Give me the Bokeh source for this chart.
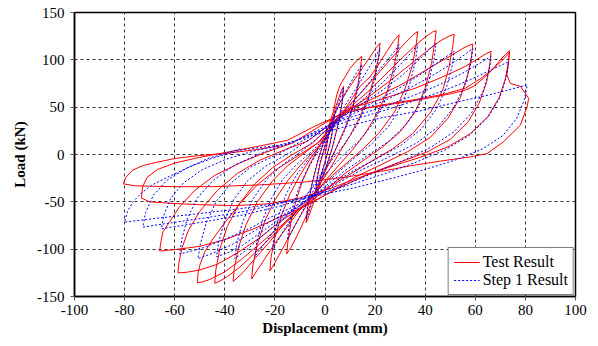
from bokeh.plotting import figure
from bokeh.models import Range1d, FixedTicker, Legend, LegendItem
from bokeh.embed import file_html
from bokeh.resources import INLINE

# ---- Test Result (red, solid): one list of (displacement mm, load kN) per cycle ----
TEST_C1 = [(0, 0), (1.5, 22), (3, 37), (3.7, 42), (3.3, 30), (2, 12), (0, -8), (-1.5, -22), (-3, -36),
           (-3.7, -40), (-3.3, -28), (-2, -10), (0, 8)]
TEST_C2 = [(2, 28), (4.5, 52), (6.5, 67), (7.4, 72), (7, 58), (5.5, 35), (3, 8), (0, -18), (-3, -40),
           (-5.5, -58), (-7, -69), (-7.5, -72), (-7, -58), (-5.5, -35), (-3, -8), (0, 18)]
TEST_C3 = [(3.3, 45), (4.7, 63), (6, 73), (10, 91), (13, 100), (14.7, 103.6), (14.2, 92), (13, 72),
           (11, 50), (8, 28), (5, 10), (2, -8), (-2, -28), (-5, -48), (-8, -68), (-11, -85), (-13.5, -98),
           (-15.3, -105), (-14.8, -92), (-13.5, -70), (-11.5, -48), (-9, -28), (-6, -10), (-3, 5), (0, 20)]
TEST_C4 = [(3, 38), (6, 55), (10, 72), (14, 88), (18, 103), (20.5, 113), (22, 117.7), (21.5, 105), (20, 85),
           (17.5, 62), (14, 40), (10, 20), (6, 3), (2, -15), (-3, -35), (-7, -52), (-11, -70), (-15, -90),
           (-18.5, -107), (-21, -119), (-22, -123), (-21.5, -108), (-20, -88), (-17.5, -65), (-14, -42),
           (-10, -22), (-6, -5), (-2, 10), (2, 24)]
TEST_C5 = [(8, 48), (11, 60), (14, 72), (18, 82), (21.3, 94.7), (24.7, 109), (27.3, 119.5), (29.6, 126.5),
           (29, 113), (27.5, 92), (25, 68), (21, 44), (16, 22), (11, 5), (6, -10), (0, -28), (-5, -45),
           (-10, -58), (-15, -76), (-20, -94), (-24, -110), (-27.5, -124), (-29.3, -131.5), (-28.8, -117),
           (-27, -95), (-24, -70), (-20, -48), (-15, -28), (-10, -12), (-5, 2), (0, 16)]
TEST_C6 = [(5, 40), (9, 50), (16, 70), (22, 88), (28, 106), (32, 118), (35, 126), (37, 130), (36.5, 118),
           (35, 95), (32, 70), (28, 46), (22, 24), (16, 8), (10, -6), (3, -22), (-4, -40), (-10, -56),
           (-16, -72), (-22, -92), (-28, -110), (-32.5, -124), (-35.5, -131.5), (-36.7, -134), (-36.2, -120),
           (-34.5, -98), (-31.5, -74), (-27, -50), (-21, -28), (-15, -12), (-8, 2), (-2, 14)]
TEST_C7 = [(4, 34), (10, 50), (17, 66), (24, 84), (30, 100), (36, 115), (40, 124), (43, 129.5), (44.4, 130.8),
           (43.8, 118), (42.5, 96), (40, 70), (36, 45), (30, 24), (23, 8), (16, -5), (8, -20), (0, -38),
           (-8, -54), (-14, -68), (-21, -86), (-28, -104), (-34, -119), (-39, -129), (-42.5, -134.5),
           (-44, -136), (-43.6, -122), (-42, -100), (-39, -76), (-34.5, -53), (-28, -31), (-21, -14),
           (-13, 0), (-5, 12)]
TEST_C8 = [(2, 30), (10, 48), (18, 62), (26, 78), (34, 95), (41, 110), (46, 120), (49.5, 125), (51.6, 127),
           (51, 114), (49.5, 92), (47, 68), (42, 44), (35, 22), (27, 6), (18, -8), (8, -24), (-2, -40),
           (-10, -57), (-17, -74), (-25, -92), (-33, -110), (-40, -124), (-46, -132), (-49.5, -135),
           (-51, -135.5), (-50.7, -126), (-50, -117), (-48, -103), (-44.7, -89), (-40, -72), (-34, -52),
           (-27, -32), (-19, -15), (-10, 0), (-3, 12)]
TEST_C9 = [(4, 33), (10, 48), (20, 60), (32, 76), (42, 92), (50, 104), (55, 112), (57.5, 115.5), (59, 116.6),
           (58.5, 104), (57, 84), (54, 60), (49, 38), (42, 18), (33, 3), (23, -10), (12, -24), (2, -40),
           (-10, -57), (-18, -71), (-26, -88), (-35, -104), (-43, -116), (-50, -122), (-55.5, -124.5),
           (-58.7, -125), (-58.3, -114), (-57, -98), (-54.5, -80), (-50, -60), (-43, -38), (-35, -20),
           (-26, -6), (-16, 5), (-7, 14)]
TEST_C10 = [(3, 34), (9, 48), (22, 58), (36, 70), (47, 82), (56, 93), (61, 101), (64, 106), (66.3, 109),
            (65.8, 96), (64.5, 76), (61.5, 54), (57, 34), (50, 16), (41, 3), (30, -8), (18, -20), (5, -36),
            (-9, -56), (-18, -66), (-28, -78), (-40, -90), (-50, -97), (-60, -100.5), (-66, -102),
            (-65.5, -92), (-64.7, -81.7), (-62, -71), (-58, -55), (-52, -38), (-44, -22), (-34, -9),
            (-24, 2), (-13, 12)]
TEST_C11 = [(-2, 30), (8, 46), (24, 52), (38, 58), (50, 64), (56, 68), (59.3, 72), (63.3, 80.6), (66.7, 89.4),
            (70, 100), (72.5, 107), (73.7, 109.5), (73.2, 97), (72, 80), (69.5, 60), (65, 40), (58, 22),
            (49, 8), (38, -3), (26, -13), (14, -24), (2, -36), (-10, -46), (-22, -52), (-36, -54), (-50, -53),
            (-62, -51.5), (-70, -50), (-73.3, -46), (-72.8, -34), (-71, -24), (-67, -16), (-60, -9),
            (-50, -3), (-38, 3), (-26, 9), (-15, 15)]
TEST_C12 = [(-4, 30), (8, 44), (22, 52), (36, 58), (48, 64), (56, 70), (62, 80), (67, 90), (71, 100),
            (73, 106), (73.6, 108), (73.2, 96), (72.6, 84), (74, 75), (78, 72), (81.3, 59.4), (80.7, 50.6),
            (78, 31), (71.3, 13.5), (64.7, 1), (58, -2.5), (46, -7), (34, -12), (22, -18), (8, -24),
            (-8, -29), (-25, -32), (-45, -34), (-60, -34), (-70, -33.5), (-76, -33), (-80.5, -31),
            (-79.5, -24), (-76.8, -16.6), (-73, -12), (-69.3, -9.5), (-60, -4.2), (-50, -1), (-40, 1),
            (-28, 5), (-18, 9)]

# ---- Step 1 Result (blue, dashed) ----
STEP1_C1 = [(0, 0), (1.5, 20), (3, 34), (3.7, 40), (3.2, 27), (2, 10), (0, -8), (-1.5, -20), (-3, -33),
            (-3.7, -38), (-3.2, -25), (-2, -8), (0, 10)]
STEP1_C2 = [(2, 26), (4.5, 48), (6.5, 63), (7.4, 70), (6.9, 55), (5.3, 32), (3, 8), (0, -16), (-3, -37),
            (-5.5, -54), (-7, -65), (-7.5, -68), (-6.9, -54), (-5.3, -32), (-3, -7), (0, 16)]
STEP1_C3 = [(3, 36), (6, 55), (9, 70), (12, 84), (14.7, 95), (14, 82), (12.5, 62), (10, 40), (7, 20), (4, 4),
            (0, -15), (-4, -35), (-8, -55), (-11.5, -73), (-14, -85), (-15, -90), (-14.4, -77), (-13, -56),
            (-10.5, -36), (-7.5, -18), (-4, -2), (0, 14)]
STEP1_C4 = [(4, 34), (8, 52), (12, 68), (16, 85), (19.5, 100), (22, 112), (21.3, 98), (19.5, 76), (16.5, 52),
            (12.5, 30), (8, 12), (3, -5), (-2, -22), (-7, -42), (-12, -62), (-16, -78), (-19, -92), (-21, -100),
            (-20.3, -86), (-18.5, -64), (-15.5, -42), (-11.5, -22), (-7, -6), (-2, 8)]
STEP1_C5 = [(3, 28), (8, 46), (14, 64), (20, 84), (25, 100), (28, 110), (29.6, 116), (28.8, 101), (26.8, 78),
            (23.5, 54), (19, 32), (13.5, 14), (7.5, 0), (1, -18), (-6, -38), (-12, -56), (-18, -72), (-23, -90),
            (-26.5, -102), (-28, -108), (-27.2, -92), (-25, -70), (-21.5, -47), (-17, -27), (-11.5, -11), (-5, 4)]
STEP1_C6 = [(2, 24), (9, 44), (16, 60), (23, 76), (29, 92), (33.5, 105), (37, 116), (36.2, 100), (34, 76),
            (30.5, 52), (25.5, 30), (19, 12), (12, -3), (4, -22), (-4, -40), (-11, -56), (-18, -70), (-25, -86),
            (-31, -100), (-36, -110), (-35.2, -94), (-33, -72), (-29, -48), (-23.5, -27), (-17, -11), (-9, 4)]
STEP1_C7 = [(-1, 22), (8, 42), (15, 54), (23, 68), (31, 84), (37.5, 100), (42, 112), (44.4, 117.7), (43.6, 102),
            (41.5, 78), (38, 54), (32.5, 32), (25.5, 14), (17, -1), (8, -17), (-1, -36), (-10, -54), (-18, -68),
            (-26, -83), (-33, -96), (-39, -104), (-43.3, -108), (-42.5, -93), (-40.2, -71), (-36.5, -48),
            (-31, -28), (-23.5, -12), (-14, 2)]
STEP1_C8 = [(-4, 20), (6, 40), (14, 48), (23, 60), (32, 74), (40, 88), (46.5, 100), (51.6, 109), (50.8, 94),
            (48.5, 71), (44.5, 48), (38.5, 27), (30.5, 10), (21, -4), (10, -19), (-1, -37), (-10, -54),
            (-20, -68), (-29, -82), (-37, -95), (-44.5, -104), (-50.7, -110), (-49.8, -95), (-47.5, -73),
            (-43.5, -50), (-37.5, -30), (-29.5, -13), (-19, 0)]
STEP1_C9 = [(-8, 16), (3, 32), (12, 44), (23, 56), (33, 69), (42, 82), (50, 95), (55.5, 105), (59, 112),
            (58.2, 96), (55.8, 73), (51.5, 50), (45, 29), (36.5, 12), (26, -2), (14, -17), (2, -35), (-9, -51),
            (-20, -64), (-30, -78), (-39.5, -89), (-48, -98), (-54, -102.5), (-58, -105), (-57.2, -90),
            (-55, -68), (-51, -46), (-44.5, -27), (-36, -11), (-25, 2)]
STEP1_C10 = [(-12, 14), (-1, 28), (11, 40), (23, 50), (35, 62), (46, 74), (55, 86), (61.5, 96), (66.3, 103.6),
             (65.5, 88), (63, 66), (58.5, 44), (51.5, 24), (42.5, 8), (31.5, -6), (19, -20), (6, -34), (-7, -46),
             (-20, -56), (-33, -64), (-46, -70), (-57, -75), (-65.3, -78.5), (-64.3, -64), (-61.5, -46),
             (-56.5, -30), (-49, -16), (-39.5, -5), (-28, 4)]
STEP1_C11 = [(-15, 11), (-3, 24), (10, 36), (23, 46), (36, 57), (48, 68), (58, 79), (66, 89), (73.3, 98),
             (72.4, 82), (69.8, 60), (65, 39), (57.5, 20), (48, 5), (36.5, -8), (23, -21), (9, -33), (-6, -44),
             (-20, -53), (-34, -61), (-48, -67), (-61, -72), (-72.7, -76.7), (-71.6, -61), (-68.5, -43),
             (-63, -27), (-55, -14), (-45, -4), (-33, 5)]
STEP1_C12 = [(-18, 10), (-5, 20), (9, 30), (23, 39), (38, 46), (52, 55), (64, 62), (73, 68), (80.7, 73.5),
             (79.6, 58), (76.5, 38), (71, 20), (63, 6), (53, -5), (41, -15), (27, -25), (12, -35), (-4, -44),
             (-20, -52), (-36, -58), (-52, -63), (-66, -67), (-80, -71.4), (-78.8, -60), (-76.7, -50),
             (-73, -40), (-69.3, -32.5), (-61.3, -22), (-54, -13), (-46.7, -4.2), (-33.3, 6.4)]

X_TICKS = [-100, -80, -60, -40, -20, 0, 20, 40, 60, 80, 100]
Y_TICKS = [-150, -100, -50, 0, 50, 100, 150]

test_cycles = [TEST_C1, TEST_C2, TEST_C3, TEST_C4, TEST_C5, TEST_C6, TEST_C7, TEST_C8, TEST_C9,
               TEST_C10, TEST_C11, TEST_C12]
step1_cycles = [STEP1_C1, STEP1_C2, STEP1_C3, STEP1_C4, STEP1_C5, STEP1_C6, STEP1_C7, STEP1_C8,
                STEP1_C9, STEP1_C10, STEP1_C11, STEP1_C12]

test_x = [pt[0] for c in test_cycles for pt in c]
test_y = [pt[1] for c in test_cycles for pt in c]
step_x = [pt[0] for c in step1_cycles for pt in c]
step_y = [pt[1] for c in step1_cycles for pt in c]

FONT = "Liberation Serif"

p = figure(width=590, height=338, x_range=Range1d(-100, 100), y_range=Range1d(-150, 150),
           output_backend="svg", toolbar_location=None,
           min_border_left=74, min_border_right=15, min_border_top=12, min_border_bottom=41)
p.background_fill_color = "white"
p.border_fill_color = "white"
p.outline_line_color = "black"
p.outline_line_width = 1.5
p.outline_line_alpha = 1

p.xaxis.ticker = FixedTicker(ticks=X_TICKS)
p.yaxis.ticker = FixedTicker(ticks=Y_TICKS)
p.xaxis.major_label_overrides = {t: str(t) for t in X_TICKS}
p.yaxis.major_label_overrides = {t: str(t) for t in Y_TICKS}
p.xaxis.axis_label = "Displacement (mm)"
p.yaxis.axis_label = "Load (kN)"
p.axis.major_label_text_font = FONT
p.axis.major_label_text_font_size = "15px"
p.axis.major_label_text_color = "black"
p.axis.axis_label_text_font = FONT
p.axis.axis_label_text_font_size = "15px"
p.axis.axis_label_text_font_style = "bold"
p.axis.axis_label_text_color = "black"
p.axis.axis_line_color = "black"
p.axis.axis_line_width = 1.5
p.axis.major_tick_line_color = "#555555"
p.axis.major_tick_out = 4
p.axis.major_tick_in = 0
p.axis.minor_tick_line_color = None
p.xaxis.axis_label_standoff = 2
p.yaxis.axis_label_standoff = 6
p.xaxis.major_label_standoff = 4
p.yaxis.major_label_standoff = 6

p.grid.grid_line_color = "#333333"
p.grid.grid_line_dash = "3 3"
p.grid.grid_line_width = 1

r_test = p.line(test_x, test_y, line_color="#FF0000", line_width=1)
r_step = p.line(step_x, step_y, line_color="#0000FF", line_width=1, line_dash="2 2")

legend = Legend(items=[LegendItem(label="Test Result", renderers=[r_test]),
                       LegendItem(label="Step 1 Result", renderers=[r_step])],
                location="bottom_right")
legend.label_text_font = FONT
legend.label_text_font_size = "16px"
legend.label_text_color = "black"
legend.border_line_color = "black"
legend.border_line_width = 1
legend.background_fill_color = "white"
legend.background_fill_alpha = 1
legend.glyph_width = 26
legend.glyph_height = 18
legend.label_standoff = 3
legend.spacing = 0
legend.padding = 5
legend.margin = 1
legend.label_height = 18
p.add_layout(legend)

open("out.html", "w").write(file_html(p, INLINE))
